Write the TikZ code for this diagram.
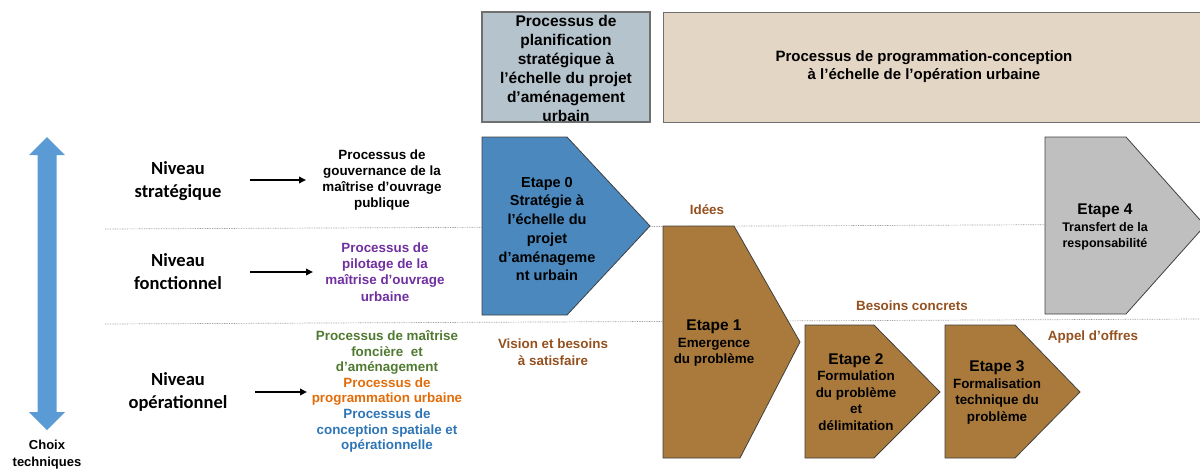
\documentclass[tikz,border=0pt]{standalone}
\usepackage{fontspec}
\setmainfont{Liberation Sans}
\newfontfamily\calib{Carlito}
\usetikzlibrary{arrows.meta}
\definecolor{graybox}{HTML}{B5C3CD}
\definecolor{tanbox}{HTML}{E4D6C4}
\definecolor{bluestep}{HTML}{4A88BE}
\definecolor{brownstep}{HTML}{A97A3C}
\definecolor{graystep}{HTML}{BFBFBF}
\definecolor{arrowblue}{HTML}{5B9BD5}
\definecolor{labelbrown}{HTML}{94501E}
\definecolor{purp}{HTML}{7030A0}
\definecolor{grn}{HTML}{4F7A30}
\definecolor{orng}{HTML}{E36C0A}
\definecolor{blu}{HTML}{2E75B6}
\definecolor{edge}{HTML}{404040}
\definecolor{boxedge}{HTML}{6F6F6F}
\tikzset{
  txt/.style={align=center, inner sep=0pt, font=\bfseries},
  small/.style={txt, font=\bfseries\fontsize{13.4}{16.2}\selectfont},
  niveau/.style={align=center, inner sep=0pt, font=\calib\bfseries\fontsize{18.5}{23}\selectfont},
  steplbl/.style={txt, font=\bfseries\fontsize{13.4}{16.5}\selectfont},
  brownlbl/.style={txt, text=labelbrown, font=\bfseries\fontsize{13.4}{17}\selectfont},
  stepshape/.style={draw=edge, line width=0.8pt},
  dotline/.style={draw=gray!80, line width=0.7pt, dash pattern=on 0.8pt off 0.9pt},
  blackarrow/.style={line width=1.8pt, -{Triangle[length=7pt,width=6.5pt]}},
}
\begin{document}
\begin{tikzpicture}[x=1pt,y=-1pt]
\useasboundingbox (0,0) rectangle (1200,472);

% dotted level separators
\draw[dotline] (105,229) -- (1200,224);
\draw[dotline] (105,324) -- (1200,319);

% header boxes
\node[draw=boxedge, fill=graybox, line width=1.2pt, minimum width=168pt, minimum height=110pt, inner sep=0pt] (pbox) at (566,67) {};
\node[txt, font=\bfseries\fontsize{15.5}{19}\selectfont] (ptext) at (566,68) {Processus de\\planification\\stratégique à\\l’échelle du projet\\d’aménagement\\urbain};
\node[draw=boxedge, fill=tanbox, line width=1.2pt, minimum width=545pt, minimum height=110pt, inner sep=0pt, anchor=north west] (tbox) at (663,12) {};
\node[txt, font=\bfseries\fontsize{15}{18}\selectfont] (ttext) at (924,67) {Processus de programmation-conception\\à l’échelle de l’opération urbaine};

% double arrow
\fill[arrowblue] (47,137) -- (65,155) -- (56.5,155) -- (56.5,412) -- (65,412) -- (47,430) -- (29,412) -- (37.5,412) -- (37.5,155) -- (29,155) -- cycle;
\node[txt, font=\bfseries\fontsize{13}{16.5}\selectfont] (choix) at (47,454.5) {Choix\\techniques};

% level labels
\node[niveau] (niv1) at (178,181) {Niveau\\stratégique};
\node[niveau] (niv2) at (178,272) {Niveau\\fonctionnel};
\node[niveau] (niv3) at (178,391.5) {Niveau\\opérationnel};

% processes
\node[small] (gov) at (382,180) {Processus de\\gouvernance de la\\maîtrise d’ouvrage\\publique};
\node[small, text=purp] (pil) at (385,272) {Processus de\\pilotage de la\\maîtrise d’ouvrage\\urbaine};
\node[txt, font=\bfseries\fontsize{13.4}{15.6}\selectfont] (ops) at (387,391.5) {\textcolor{grn}{Processus de maîtrise}\\\textcolor{grn}{foncière\ \ et}\\\textcolor{grn}{d’aménagement}\\\textcolor{orng}{Processus de}\\\textcolor{orng}{programmation urbaine}\\\textcolor{blu}{Processus de}\\\textcolor{blu}{conception spatiale et}\\\textcolor{blu}{opérationnelle}};

% arrows
\coordinate (a1s) at (250,180); \coordinate (a1e) at (306,180);
\coordinate (a2s) at (250,272); \coordinate (a2e) at (313,272);
\coordinate (a3s) at (255,392); \coordinate (a3e) at (307,392);
\draw[blackarrow] (a1s) -- (a1e);
\draw[blackarrow] (a2s) -- (a2e);
\draw[blackarrow] (a3s) -- (a3e);

% steps
\draw[stepshape, fill=bluestep] (482,137) -- (567,137) -- (650,226) -- (567,315) -- (482,315) -- cycle;
\node[txt, font=\bfseries\fontsize{14.5}{18.7}\selectfont] (e0) at (547,229) {Etape 0\\Stratégie à\\l’échelle du\\projet\\d’aménageme\\nt urbain};

\draw[stepshape, fill=brownstep] (663,226) -- (734,226) -- (800,342) -- (740,458) -- (663,458) -- cycle;
\node[steplbl] (e1) at (714,343.5) {{\fontsize{15.5}{16.5}\selectfont Etape 1}\\Emergence\\du problème};

\draw[stepshape, fill=brownstep] (805,325) -- (874,325) -- (940,392) -- (874,458) -- (805,458) -- cycle;
\node[steplbl] (e2) at (856,392) {{\fontsize{15.5}{16.5}\selectfont Etape 2}\\Formulation\\du problème\\et\\délimitation};

\draw[stepshape, fill=brownstep] (945,325) -- (1015,325) -- (1080,392) -- (1015,458) -- (945,458) -- cycle;
\node[steplbl] (e3) at (997,392.5) {{\fontsize{15.5}{16.5}\selectfont Etape 3}\\Formalisation\\technique du\\problème};

\draw[stepshape, fill=graystep] (1045,137) -- (1126,137) -- (1205,225.5) -- (1126,314) -- (1045,314) -- cycle;
\node[txt, font=\bfseries\fontsize{12.5}{16.8}\selectfont] (e4) at (1105,227) {{\fontsize{15.5}{16.8}\selectfont Etape 4}\\Transfert de la\\responsabilité};

% brown labels
\node[brownlbl] (idees) at (707,210) {Idées};
\node[brownlbl] (besoins) at (912,306) {Besoins concrets};
\node[brownlbl] (appel) at (1093,337) {Appel d’offres};
\node[brownlbl] (vision) at (553,352.5) {Vision et besoins\\à satisfaire};
\end{tikzpicture}
\end{document}
